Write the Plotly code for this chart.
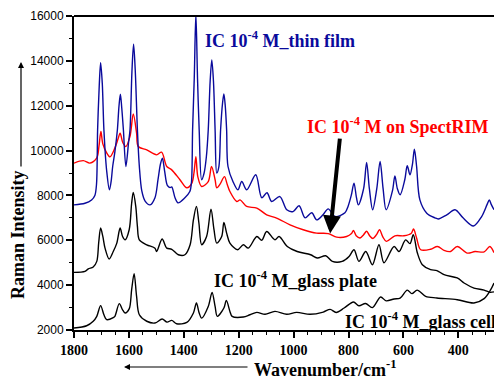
import plotly.graph_objects as go

# ---- data (wavenumber cm^-1, Raman intensity) ----
thin_film_wn = [1800, 1760, 1736, 1724, 1718, 1714, 1708, 1703, 1697, 1691, 1681, 1671, 1665, 1659, 1651,
                1642, 1636, 1631, 1626, 1620, 1611, 1601, 1596, 1589, 1583, 1577, 1569, 1562, 1553, 1541,
                1523, 1505, 1494, 1485, 1478, 1470, 1460, 1450, 1444, 1432, 1421, 1396, 1378, 1372, 1368,
                1362, 1356, 1350, 1344, 1335, 1326, 1318, 1311, 1304, 1298, 1292, 1286, 1280, 1272, 1266,
                1259, 1254, 1249, 1244, 1239, 1221, 1203, 1189, 1171, 1138, 1116, 1097, 1080, 1050, 1025,
                1002, 980, 958, 934, 916, 893, 874, 849, 813, 802, 790, 780, 771, 764, 745, 734, 724, 712,
                697, 685, 674, 663, 640, 631, 622, 612, 595, 586, 576, 567, 560, 552, 540, 515, 485, 473,
                442, 412, 382, 345, 315, 295, 287, 280, 270]
thin_film_int = [7580, 7650, 7800, 8000, 8500, 10920, 12900, 13920, 13000, 10920, 9100, 8250, 8600, 9300, 9950,
                 10920, 12000, 12510, 11900, 10920, 9290, 10400, 10920, 13500, 14740, 13600, 10920, 9300, 8200, 7750,
                 7580, 7900, 8700, 9400, 9660, 9100, 8450, 8350, 8380, 7900, 7670, 7900, 8175, 8600, 10920,
                 13200, 16100, 13200, 10920, 8700, 9000, 9700, 10920, 13100, 14040, 13100, 10920, 9000, 9300, 10920,
                 12100, 12520, 12000, 10920, 9290, 8620, 8250, 8620, 8250, 8920, 7900, 8120, 7730, 7950, 7360,
                 7280, 7540, 7000, 7225, 6910, 7135, 7400, 7060, 7225, 7500, 8000, 8550, 7900, 7580, 8300, 9470, 8300, 7360,
                 8300, 9510, 8300, 7360, 8200, 8870, 8300, 8030, 8700, 9320, 8920, 9400, 10060, 9300, 7800, 7210, 7000, 6950,
                 7135, 7360, 6990, 6640, 7060, 7600, 7800, 7600, 7360]

spectrim_wn = [1800, 1766, 1742, 1717, 1709, 1702, 1695, 1681, 1669, 1651, 1640, 1632, 1622, 1611, 1596,
               1584, 1572, 1566, 1535, 1499, 1481, 1462, 1444, 1414, 1389, 1371, 1363, 1356, 1349, 1335,
               1311, 1299, 1286, 1280, 1268, 1252, 1242, 1232, 1207, 1195, 1171, 1134, 1098, 1062, 1013,
               965, 916, 874, 843, 807, 789, 782, 772, 758, 745, 734, 723, 711, 698, 687, 675, 662, 631, 598,
               572, 563, 552, 537, 501, 476, 452, 428, 404, 367, 339, 306, 285, 270]
spectrim_int = [9440, 9550, 9440, 9670, 10200, 10850, 10300, 9900, 9720, 10120, 10500, 10775, 10350, 10180, 10630,
                11635, 10775, 10180, 10030, 9810, 9930, 9290, 9140, 8700, 8340, 8540, 9000, 9730, 8840, 8400,
                8620, 9290, 8700, 8340, 8500, 8840, 8500, 8175, 7730, 7800, 7510, 7435, 7135, 6990, 6690,
                6470, 6320, 6300, 6140, 6170, 6300, 6440, 6200, 6100, 6250, 6400, 6200, 6080, 6250, 6470, 6150, 5950,
                6200, 6200, 6300, 6500, 6100, 5580, 5600, 5725, 5550, 5500, 5725, 5430, 5500, 5480, 5725, 5450]

plate_wn = [1800, 1760, 1748, 1730, 1717, 1710, 1703, 1695, 1687, 1672, 1657, 1644, 1632, 1623, 1614,
            1599, 1590, 1584, 1575, 1569, 1562, 1535, 1505, 1499, 1479, 1462, 1444, 1420, 1396, 1377,
            1365, 1354, 1345, 1335, 1317, 1301, 1290, 1280, 1262, 1254, 1244, 1232, 1204, 1183, 1165,
            1134, 1116, 1098, 1068, 1053, 1023, 987, 938, 914, 883, 859, 823, 798, 780, 762, 737, 713,
            689, 671, 634, 616, 592, 576, 564, 549, 531, 501, 478, 452, 404, 379, 343, 306, 285, 270]
plate_int = [4570, 4610, 4730, 4810, 5060, 5900, 6545, 6170, 5650, 5165, 5500, 5875, 6545, 6170, 6020,
             6470, 7650, 8130, 7510, 6620, 6020, 5800, 5650, 5500, 6055, 5650, 5600, 5355, 5355, 5800,
             6910, 7510, 6770, 5800, 6170, 7390, 6470, 5875, 6170, 6800, 6320, 5875, 5580, 5800, 5650,
             6170, 6000, 6390, 6020, 6170, 5725, 5500, 5355, 5210, 5310, 5060, 5060, 5280, 5580, 5060, 5500,
             4910, 5800, 5000, 5725, 5500, 6020, 5850, 6250, 5430, 4910, 4690, 4650, 4465, 4320, 4095, 3870,
             3780, 3680, 3700]

cell_wn = [1800, 1754, 1730, 1717, 1703, 1691, 1681, 1657, 1651, 1635, 1623, 1614, 1599, 1590, 1581,
           1572, 1562, 1535, 1505, 1479, 1461, 1444, 1426, 1389, 1365, 1354, 1344, 1335, 1311, 1297,
           1286, 1278, 1254, 1245, 1232, 1224, 1183, 1159, 1134, 1104, 1068, 1025, 989, 940, 892, 867,
           845, 816, 782, 762, 738, 713, 683, 663, 634, 612, 586, 569, 550, 519, 478, 404, 343, 306, 282, 270]
cell_int = [2090, 2190, 2390, 2610, 3085, 2680, 2460, 2550, 2610, 3175, 2900, 2760, 2940, 3800, 4510,
            3500, 2680, 2390, 2310, 2490, 2350, 2430, 2280, 2340, 2760, 3205, 2760, 2530, 3050, 3675,
            3050, 2610, 2980, 3320, 2830, 2610, 2580, 2680, 2785, 2700, 2830, 2700, 2785, 2700, 2800, 2920,
            2780, 2980, 3250, 3080, 3180, 3000, 3470, 3300, 3385, 3420, 3780, 3620, 3780, 3500, 3430, 3350,
            3205, 3400, 3800, 4095]

x_ticks = [1800, 1600, 1400, 1200, 1000, 800, 600, 400]
y_ticks = [2000, 4000, 6000, 8000, 10000, 12000, 14000, 16000]

BLUE = "#0a0a9c"
RED = "#ff0000"
SERIF = "Liberation Serif"

fig = go.Figure()
for wn, inten, col in [(cell_wn, cell_int, "black"), (plate_wn, plate_int, "black"),
                       (spectrim_wn, spectrim_int, RED), (thin_film_wn, thin_film_int, BLUE)]:
    fig.add_trace(go.Scatter(x=wn, y=inten, mode="lines",
                             line=dict(color=col, width=1.4, shape="spline", smoothing=0.9),
                             showlegend=False, hoverinfo="skip"))

def lbl(text, x, y, color, size=18):
    fig.add_annotation(text="<b>" + text + "</b>", x=x, y=y, xref="paper", yref="paper",
                       xanchor="left", yanchor="middle", showarrow=False,
                       font=dict(family=SERIF, size=size, color=color))

L, T, W, H = 74, 16, 420, 314
def px(xp): return (xp - L) / W
def py(yp): return (T + H - yp) / H

lbl("IC 10<sup>-4</sup> M_thin film", px(203), py(40), BLUE)
lbl("IC 10<sup>-4</sup> M on SpectRIM", px(305), py(125), RED)
lbl("IC 10<sup>-4</sup> M_glass plate", px(212), py(279), "black")
lbl("IC 10<sup>-4</sup> M_glass cell", px(343), py(320), "black")

# arrow to SpectRIM curve
fig.add_annotation(x=867, y=6300, ax=831, ay=10600, xref="x", yref="y", axref="x", ayref="y",
                   text="", showarrow=True, arrowhead=2, arrowsize=0.9, arrowwidth=4, arrowcolor="black")

# axis titles with arrows
fig.add_annotation(text="<b>Raman Intensity</b>", x=px(18), y=py(235), xref="paper", yref="paper",
                   xanchor="center", yanchor="middle", textangle=-90, showarrow=False,
                   font=dict(family=SERIF, size=18, color="black", weight="bold"))
fig.add_annotation(x=px(21), y=py(62), ax=0, ay=106, xref="paper", yref="paper",
                   text="", showarrow=True, arrowhead=2,
                   arrowsize=1, arrowwidth=1.2, arrowcolor="black")
fig.add_annotation(text="<b>Wavenumber/cm<sup>-1</sup></b>", x=px(252), y=py(368), xref="paper",
                   yref="paper", xanchor="left", yanchor="middle", showarrow=False,
                   font=dict(family=SERIF, size=18, color="black"))
fig.add_annotation(x=px(124), y=py(367), ax=125, ay=0, xref="paper", yref="paper",
                   text="", showarrow=True, arrowhead=2,
                   arrowsize=1, arrowwidth=1.2, arrowcolor="black")

# top frame line
fig.add_shape(type="line", xref="paper", yref="paper", x0=0, x1=1, y0=1, y1=1,
              line=dict(color="black", width=2))

fig.update_layout(
    width=494, height=378, margin=dict(l=L, r=0, t=T, b=378 - T - H),
    paper_bgcolor="white", plot_bgcolor="white",
    xaxis=dict(range=[1800, 270], tickvals=x_ticks, ticktext=[str(v) for v in x_ticks],
               ticks="outside", ticklen=6, tickwidth=1.5, tickcolor="black",
               showline=True, linewidth=2, linecolor="black", showgrid=False, zeroline=False,
               minor=dict(dtick=50, tick0=0, ticks="outside", ticklen=3, tickcolor="black", tickwidth=1),
               tickfont=dict(family=SERIF, size=14, color="black", weight="bold")),
    yaxis=dict(range=[2000, 16000], tickvals=y_ticks, ticktext=[str(v) for v in y_ticks],
               ticks="outside", ticklen=6, tickwidth=1.5, tickcolor="black",
               showline=True, linewidth=2, linecolor="black", showgrid=False, zeroline=False,
               minor=dict(dtick=1000, tick0=0, ticks="outside", ticklen=3, tickcolor="black", tickwidth=1),
               tickfont=dict(family="Liberation Sans", size=12, color="black")),
)

fig.write_html("out.html")
